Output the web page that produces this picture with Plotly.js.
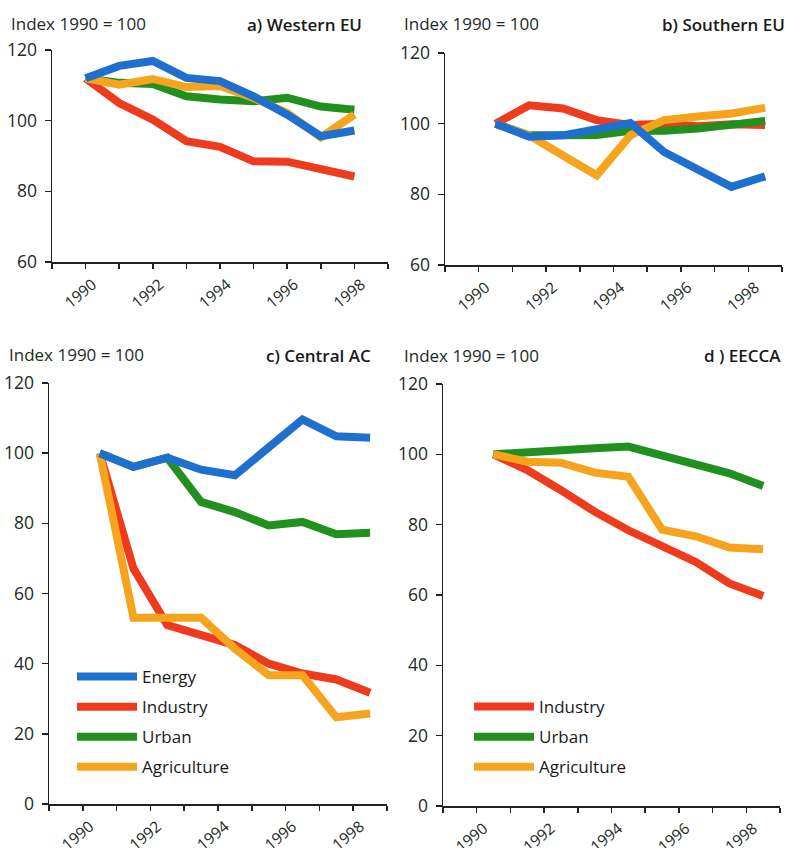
<!DOCTYPE html>
<html>
<head>
<meta charset="utf-8">
<script src="https://cdn.plot.ly/plotly-3.0.1.min.js"></script>
<style>html,body{margin:0;padding:0;background:#fff;}#chart{width:786px;height:848px;}</style>
</head>
<body>
<div id="chart"></div>
<script>
// ---- data ----
var years = [1990, 1991, 1992, 1993, 1994, 1995, 1996, 1997, 1998];
var seriesNames = ['Energy', 'Industry', 'Urban', 'Agriculture'];

// a) Western EU
var westEnergy      = [112, 115.5, 116.9, 112.1, 111.2, 106.9, 101.7, 95.6, 97.2];
var westIndustry    = [112, 105, 100.3, 94.2, 92.6, 88.5, 88.4, 86.1, 84.2];
var westUrban       = [112, 110.7, 110.4, 106.9, 106.0, 105.5, 106.5, 104.0, 103.1];
var westAgriculture = [112, 110.2, 111.8, 109.5, 109.8, 106.4, 102.2, 95.3, 101.7];

// b) Southern EU
var southEnergy      = [100, 96.3, 96.7, 98.6, 100.2, 92.0, 87.3, 82.1, 85.1];
var southIndustry    = [100, 105.2, 104.3, 101.0, 99.6, 100.0, 99.3, 99.8, 99.6];
var southUrban       = [100, 96.7, 96.7, 96.8, 98.0, 98.0, 98.6, 99.6, 100.8];
var southAgriculture = [100, 96.7, 91.0, 85.4, 96.7, 101.0, 102.0, 102.9, 104.5];

// c) Central AC
var centralEnergy      = [100, 96.1, 98.7, 95.3, 93.7, 101.3, 109.6, 104.8, 104.4];
var centralIndustry    = [100, 67.1, 51.0, 48.1, 45.3, 40.0, 37.2, 35.5, 31.7];
var centralUrban       = [100, 96.1, 98.7, 86.1, 83.2, 79.4, 80.4, 76.9, 77.3];
var centralAgriculture = [100, 53.1, 53.1, 53.1, 44.3, 36.7, 36.7, 24.7, 25.8];

// d) EECCA
var eeccaIndustry    = [100, 95.5, 89.8, 83.7, 78.4, 74.2, 69.4, 63.3, 59.7];
var eeccaUrban       = [100, 100.7, 101.2, 101.7, 102.2, 99.8, 97.0, 94.6, 91.0];
var eeccaAgriculture = [100, 97.9, 97.6, 94.8, 93.6, 78.6, 76.7, 73.5, 73.0];

var tickYears = [1989, 1990, 1991, 1992, 1993, 1994, 1995, 1996, 1997, 1998, 1999];
var tickLabels = ['', '1990', '', '1992', '', '1994', '', '1996', '', '1998', ''];
var panelTitles = ['a) Western EU', 'b) Southern EU', 'c) Central AC', 'd ) EECCA'];
var indexLabel = 'Index 1990 = 100';

// ---- styling ----
var colors = {Energy: '#1f6fcf', Industry: '#ef3b1d', Urban: '#22901f', Agriculture: '#f6a41e'};
var rank = {Energy: 1, Industry: 2, Urban: 3, Agriculture: 4};
var W = 786, H = 848;
var FONT = 'Open Sans, Noto Sans, sans-serif';
var TXT = '#222a26';

function xs(offset) { return years.map(function (y) { return y + offset; }); }

var traces = [];
function addPanel(axSuffix, offset, data, legendId) {
  // draw order: Industry, Urban, Agriculture, Energy (Energy on top)
  ['Industry', 'Urban', 'Agriculture', 'Energy'].forEach(function (name) {
    if (!data[name]) return;
    var t = {
      type: 'scatter', mode: 'lines', name: name,
      x: xs(offset), y: data[name],
      xaxis: 'x' + axSuffix, yaxis: 'y' + axSuffix,
      line: {color: colors[name], width: 8},
      showlegend: !!legendId, hoverinfo: 'skip'
    };
    if (legendId) {
      t.legend = legendId;
      t.legendrank = rank[name];
      t.legendgroup = legendId + name;
    }
    traces.push(t);
  });
}
addPanel('', 0, {Energy: westEnergy, Industry: westIndustry, Urban: westUrban, Agriculture: westAgriculture}, null);
addPanel('2', 0.5, {Energy: southEnergy, Industry: southIndustry, Urban: southUrban, Agriculture: southAgriculture}, null);
addPanel('3', 0.5, {Energy: centralEnergy, Industry: centralIndustry, Urban: centralUrban, Agriculture: centralAgriculture}, 'legend');
addPanel('4', 0.5, {Industry: eeccaIndustry, Urban: eeccaUrban, Agriculture: eeccaAgriculture}, 'legend2');

function px(x) { return x / W; }
function py(y) { return 1 - y / H; }

function xaxis(l, r, anchor) {
  return {
    domain: [px(l), px(r)], anchor: anchor, range: [1989, 1999],
    tickmode: 'array', tickvals: tickYears, ticktext: tickLabels,
    ticks: 'outside', ticklen: 5, tickwidth: 1.5, tickcolor: '#222',
    tickangle: -40, ticklabelshift: 7, ticklabelstandoff: 1,
    showline: true, linecolor: '#222', linewidth: 1.5,
    showgrid: false, zeroline: false,
    tickfont: {family: FONT, size: 15.5, color: TXT}, fixedrange: true
  };
}
function yaxis(top, bottom, anchor, range) {
  return {
    domain: [py(bottom), py(top)], anchor: anchor, range: range, dtick: 20,
    ticks: 'outside', ticklen: 6, tickwidth: 1.5, tickcolor: '#222',
    ticklabelstandoff: 4,
    showline: true, linecolor: '#222', linewidth: 1.5,
    showgrid: false, zeroline: false,
    tickfont: {family: FONT, size: 17.5, color: TXT}, fixedrange: true
  };
}

var annotations = [];
function addLabels(idxX, idxY, titleRight, titleY, title) {
  annotations.push({xref: 'paper', yref: 'paper', x: px(idxX), y: py(idxY), xanchor: 'left', yanchor: 'middle',
    text: indexLabel, showarrow: false, font: {family: FONT, size: 17, color: TXT}});
  annotations.push({xref: 'paper', yref: 'paper', x: px(titleRight), y: py(titleY), xanchor: 'right', yanchor: 'middle',
    text: title, showarrow: false, font: {family: FONT, size: 17, weight: 600, color: '#1a1a1a'}});
}
addLabels(9, 24, 364, 25, panelTitles[0]);
addLabels(402, 24, 787, 25, panelTitles[1]);
addLabels(7, 354, 373, 355, panelTitles[2]);
addLabels(402, 356, 783, 356, panelTitles[3]);

var legendBase = {
  bgcolor: 'rgba(0,0,0,0)', borderwidth: 0,
  font: {family: FONT, size: 17, color: '#1a1a1a'},
  traceorder: 'grouped', tracegroupgap: 5, itemwidth: 60,
  xanchor: 'left', yanchor: 'top'
};

var layout = {
  width: W, height: H, autosize: false,
  margin: {l: 0, r: 0, t: 0, b: 0},
  paper_bgcolor: '#fff', plot_bgcolor: '#fff',
  showlegend: true,
  xaxis: xaxis(52, 388, 'y'),
  yaxis: yaxis(50, 262, 'x', [60, 120]),
  xaxis2: xaxis(445, 782, 'y2'),
  yaxis2: yaxis(53, 265, 'x2', [60, 120]),
  xaxis3: xaxis(49, 387, 'y3'),
  yaxis3: yaxis(383, 804, 'x3', [0, 120]),
  xaxis4: xaxis(443, 780, 'y4'),
  yaxis4: yaxis(384, 806, 'x4', [0, 120]),
  legend: Object.assign({}, legendBase, {x: px(72), y: py(659)}),
  legend2: Object.assign({}, legendBase, {x: px(469), y: py(689)}),
  annotations: annotations
};

Plotly.newPlot('chart', traces, layout, {staticPlot: true, displayModeBar: false});
</script>
</body>
</html>
